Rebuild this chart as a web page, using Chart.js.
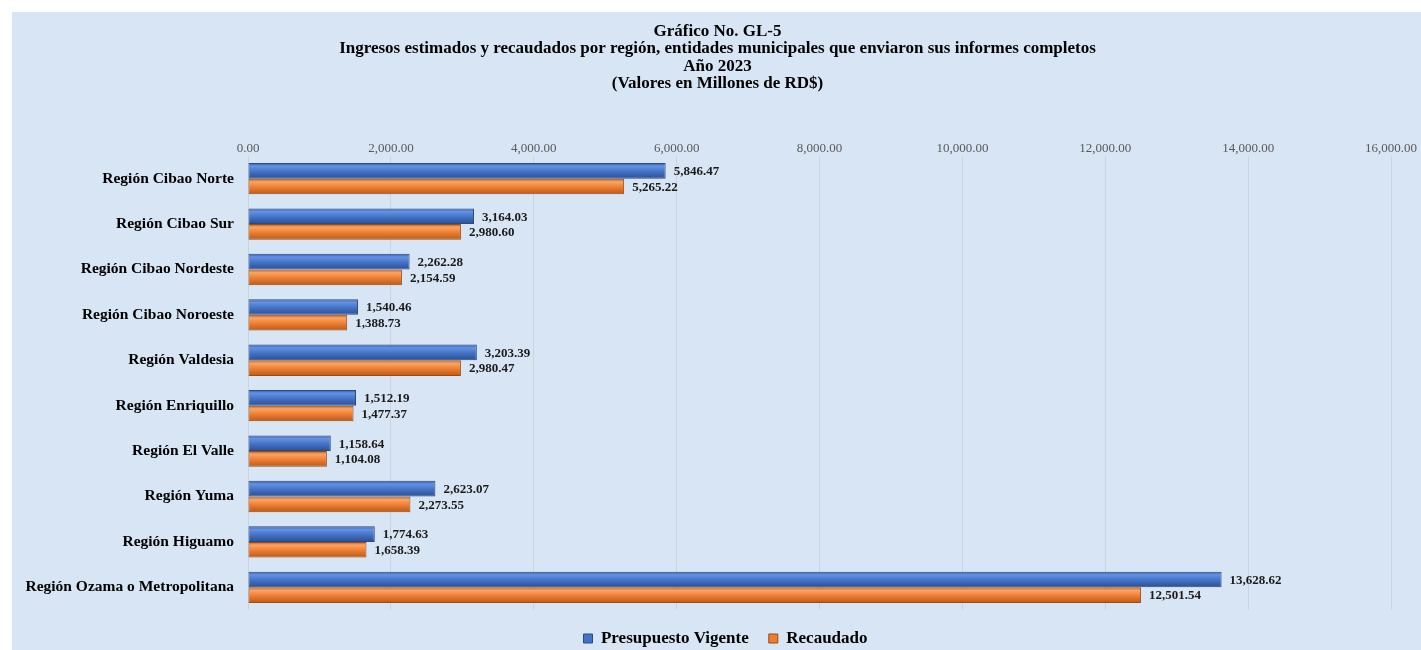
<!DOCTYPE html>
<html>
<head>
<meta charset="utf-8">
<script src="https://cdn.jsdelivr.net/npm/chart.js@4.4.1/dist/chart.umd.min.js"></script>
<style>
  body { margin: 0; background: #fff; }
  #wrap { position: absolute; left: 12px; top: 12px; width: 1409px; height: 638px; }
</style>
</head>
<body>
<div id="wrap"><canvas id="grafico"></canvas></div>
<script>
const regiones = [
    'Región Cibao Norte',
    'Región Cibao Sur',
    'Región Cibao Nordeste',
    'Región Cibao Noroeste',
    'Región Valdesia',
    'Región Enriquillo',
    'Región El Valle',
    'Región Yuma',
    'Región Higuamo',
    'Región Ozama o Metropolitana'
];
const presupuesto = [5846.47, 3164.03, 2262.28, 1540.46, 3203.39, 1512.19, 1158.64, 2623.07, 1774.63, 13628.62];
const recaudado = [5265.22, 2980.60, 2154.59, 1388.73, 2980.47, 1477.37, 1104.08, 2273.55, 1658.39, 12501.54];
const titulo = [
    'Gráfico No. GL-5',
    'Ingresos estimados y recaudados por región, entidades municipales que enviaron sus informes completos',
    'Año 2023',
    '(Valores en Millones de RD$)'
];

const serif = "'Liberation Serif', 'Times New Roman', serif";
const fmt = v => v.toLocaleString('en-US', { minimumFractionDigits: 2, maximumFractionDigits: 2 });

// colores para el efecto "3D" de las barras: borde, brillo, medio, sombra
const tonos = [
    ['#34589c', '#6393e6', '#4472c4', '#2b4f93'],
    ['#b45a1c', '#fba563', '#ed7d31', '#b85a18']
];

const fondo = {
    id: 'fondo',
    beforeDraw(chart) {
        const c = chart.ctx;
        c.save();
        c.fillStyle = '#d8e5f4';
        c.fillRect(0, 0, chart.width, chart.height);
        c.restore();
    }
};

// cada barra recibe su propio degradado (las opciones se comparten, por eso se copian)
const degradado = {
    id: 'degradado',
    beforeDatasetsDraw(chart) {
        const c = chart.ctx;
        chart.data.datasets.forEach((ds, i) => {
            chart.getDatasetMeta(i).data.forEach(bar => {
                const top = bar.y - bar.height / 2;
                const g = c.createLinearGradient(0, top, 0, top + bar.height);
                g.addColorStop(0, tonos[i][0]);
                g.addColorStop(0.2, tonos[i][1]);
                g.addColorStop(0.55, tonos[i][2]);
                g.addColorStop(1, tonos[i][3]);
                bar.options = Object.assign({}, bar.options, { backgroundColor: g });
            });
        });
    }
};

const etiquetas = {
    id: 'etiquetas',
    afterDatasetsDraw(chart) {
        const c = chart.ctx;
        c.save();
        c.font = 'bold 13px ' + serif;
        c.fillStyle = '#1a1a1a';
        c.textBaseline = 'middle';
        c.textAlign = 'left';
        chart.data.datasets.forEach((ds, i) => {
            chart.getDatasetMeta(i).data.forEach((bar, j) => {
                c.fillText(fmt(ds.data[j]), bar.x + 8, bar.y + 1);
            });
        });
        c.restore();
    }
};

// titulo y leyenda del original estan centrados en todo el ancho, algo a la derecha
const centrar = {
    id: 'centrar',
    afterLayout(chart) {
        if (chart.titleBlock) {
            chart.titleBlock.left += 16;
            chart.titleBlock.right += 16;
        }
        if (chart.legend) {
            chart.legend.left += 24;
            chart.legend.right += 24;
        }
    }
};

new Chart(document.getElementById('grafico'), {
    type: 'bar',
    data: {
        labels: regiones,
        datasets: [{
            label: 'Presupuesto Vigente',
            data: presupuesto,
            backgroundColor: '#4472c4',
            borderColor: '#2a4a85',
            borderWidth: 1,
            borderSkipped: false,
            categoryPercentage: 0.69,
            barPercentage: 1
        }, {
            label: 'Recaudado',
            data: recaudado,
            backgroundColor: '#ed7d31',
            borderColor: '#9e4a10',
            borderWidth: 1,
            borderSkipped: false,
            categoryPercentage: 0.69,
            barPercentage: 1
        }]
    },
    options: {
        indexAxis: 'y',
        responsive: true,
        maintainAspectRatio: false,
        animation: false,
        layout: { padding: { top: 11, right: 30, bottom: -7, left: 0 } },
        scales: {
            x: {
                position: 'top',
                min: 0,
                max: 16000,
                ticks: {
                    stepSize: 2000,
                    color: '#595959',
                    font: { family: serif, size: 13 },
                    padding: 0,
                    callback: v => fmt(v)
                },
                grid: { color: '#cad3de', drawTicks: false },
                border: { display: false }
            },
            y: {
                ticks: {
                    color: '#000',
                    font: { family: serif, size: 15.5, weight: 'bold' },
                    padding: 6
                },
                grid: { display: false },
                border: { display: false },
                afterFit(scale) { scale.width = 236; }
            }
        },
        plugins: {
            title: {
                display: true,
                text: titulo,
                color: '#000',
                font: { family: serif, size: 17, weight: 'bold', lineHeight: 1.02 },
                padding: { top: 0, bottom: 48 }
            },
            legend: {
                position: 'bottom',
                labels: {
                    color: '#000',
                    font: { family: serif, size: 17, weight: 'bold' },
                    boxWidth: 9,
                    boxHeight: 9,
                    padding: 20
                }
            },
            tooltip: { enabled: false }
        }
    },
    plugins: [fondo, degradado, etiquetas, centrar]
});
</script>
</body>
</html>
